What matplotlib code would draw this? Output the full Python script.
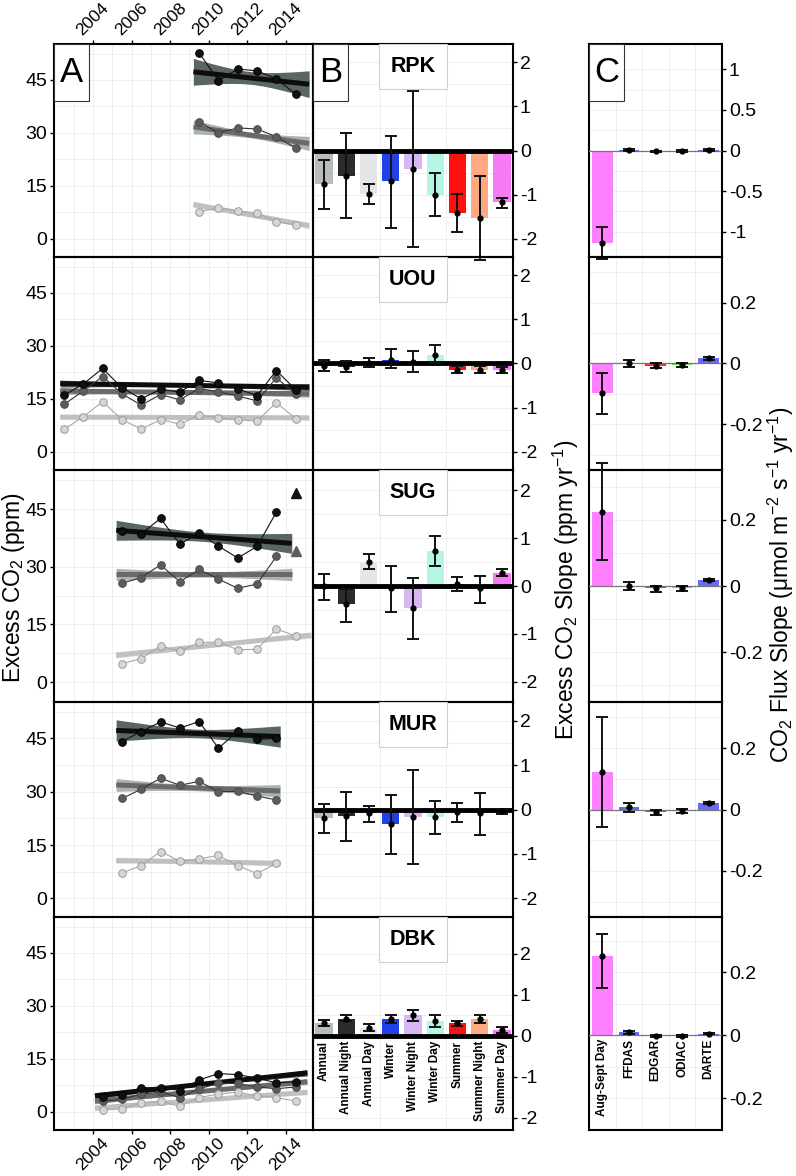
import numpy as np
import matplotlib
matplotlib.use('Agg')
import matplotlib.pyplot as plt
from matplotlib.patches import Rectangle

plt.rcParams['font.family'] = ['Liberation Sans', 'DejaVu Sans']
plt.rcParams['mathtext.fontset'] = 'custom'
plt.rcParams['mathtext.rm'] = 'Liberation Sans'
plt.rcParams['axes.unicode_minus'] = False

W, H = 796, 1176

sites = ['RPK', 'UOU', 'SUG', 'MUR', 'DBK']

# ---- panel A : yearly excess CO2 (night / annual / day) ----
rpk_years = [2009.5, 2010.5, 2011.5, 2012.5, 2013.5, 2014.5]
rpk_night = [52.7, 44.8, 48.1, 47.6, 45.3, 41.0]
rpk_annual = [33.1, 30.0, 31.4, 31.1, 28.9, 25.7]
rpk_day = [7.6, 8.8, 7.8, 7.3, 4.8, 3.9]

uou_years = [2002.5, 2003.5, 2004.5, 2005.5, 2006.5, 2007.5, 2008.5,
             2009.5, 2010.5, 2011.5, 2012.5, 2013.5, 2014.5]
uou_night = [16.0, 19.2, 23.6, 18.1, 15.0, 17.7, 16.9, 20.2, 19.5, 17.8, 15.9, 23.0, 17.6]
uou_annual = [13.4, 17.2, 21.3, 16.4, 13.2, 16.2, 14.7, 17.9, 17.0, 15.8, 14.4, 20.9, 16.4]
uou_day = [6.3, 9.9, 14.2, 9.1, 6.4, 9.1, 7.8, 10.4, 9.6, 9.0, 8.7, 13.9, 9.4]

sug_years = [2005.5, 2006.5, 2007.5, 2008.5, 2009.5, 2010.5, 2011.5, 2012.5, 2013.5, 2014.5]
sug_night = [39.3, 38.6, 42.6, 35.9, 38.7, 35.4, 32.3, 35.3, 44.2, None]
sug_annual = [25.7, 27.2, 30.5, 26.1, 29.3, 26.8, 24.4, 25.5, 32.7, None]
sug_day = [4.8, 6.1, 9.4, 8.0, 10.3, 10.4, 8.4, 8.5, 13.8, 12.0]
sug_tri_year = 2014.5
sug_tri_night = 49.3
sug_tri_annual = 34.1

mur_years = [2005.5, 2006.5, 2007.5, 2008.5, 2009.5, 2010.5, 2011.5, 2012.5, 2013.5]
mur_night = [44.1, 46.9, 49.6, 47.9, 49.7, 42.2, 47.0, 44.7, 45.0]
mur_annual = [28.1, 30.7, 33.8, 31.8, 32.9, 30.0, 30.1, 28.8, 27.7]
mur_day = [7.2, 9.2, 13.2, 10.5, 11.1, 12.1, 9.2, 7.0, 9.9]

dbk_years = [2004.5, 2005.5, 2006.5, 2007.5, 2008.5, 2009.5, 2010.5,
             2011.5, 2012.5, 2013.5, 2014.5]
dbk_night = [4.2, 4.8, 6.8, 6.8, 6.0, 9.0, 10.8, 10.5, 9.5, 8.2, 8.5]
dbk_annual = [3.0, 3.5, 5.0, 5.5, 4.0, 6.5, 8.0, 8.0, 7.0, 6.5, 7.0]
dbk_day = [0.5, 0.8, 2.5, 3.0, 1.5, 4.0, 5.0, 5.5, 4.5, 4.0, 3.0]

# trend lines: (x start, x end, y start, y end, band half width at ends, at middle)
rpk_fit = [(2009.2, 2015.2, 47.3, 43.8, 3.8, 1.8),
           (2009.2, 2015.2, 31.7, 27.0, 2.0, 0.8),
           (2009.2, 2015.2, 9.7, 3.7, 0.9, 0.4)]
uou_fit = [(2002.3, 2015.2, 19.3, 18.3, 1.0, 0.4),
           (2002.3, 2015.2, 17.2, 16.4, 1.0, 0.4),
           (2002.3, 2015.2, 9.8, 9.6, 0.6, 0.3)]
sug_fit = [(2005.2, 2014.3, 39.5, 36.1, 2.6, 1.2),
           (2005.2, 2014.3, 28.0, 28.0, 1.6, 0.7),
           (2005.2, 2015.3, 7.0, 12.2, 0.8, 0.4)]
mur_fit = [(2005.2, 2013.7, 47.2, 45.5, 3.0, 1.2),
           (2005.2, 2013.7, 31.9, 30.2, 1.8, 0.8),
           (2005.2, 2013.7, 10.7, 9.9, 0.8, 0.4)]
dbk_fit = [(2004.1, 2015.1, 4.5, 11.0, 0.9, 0.4),
           (2004.1, 2015.1, 3.0, 8.5, 0.8, 0.4),
           (2004.1, 2015.1, 1.0, 5.5, 0.7, 0.3)]

# ---- panel B : excess CO2 slopes ----
b_labels = ['Annual', 'Annual Night', 'Annual Day', 'Winter', 'Winter Night',
            'Winter Day', 'Summer', 'Summer Night', 'Summer Day']
b_colors = ['#b7bdbd', '#2b2b2b', '#e6e6e6', '#2040e8', '#d8b6f2',
            '#b5f5e6', '#ff1010', '#ffa882', '#f57cf5']

rpk_slope = [-0.76, -0.57, -0.98, -0.70, -0.43, -1.00, -1.42, -1.54, -1.18]
rpk_lo = [-1.32, -1.54, -1.21, -1.75, -2.19, -1.49, -1.85, -2.48, -1.31]
rpk_hi = [-0.22, 0.40, -0.76, 0.33, 1.35, -0.52, -0.98, -0.59, -1.08]

uou_slope = [-0.05, -0.07, 0.02, 0.07, 0.04, 0.20, -0.15, -0.14, -0.15]
uou_lo = [-0.16, -0.20, -0.08, -0.11, -0.20, 0.02, -0.21, -0.22, -0.21]
uou_hi = [0.07, 0.05, 0.13, 0.32, 0.28, 0.43, -0.06, -0.06, -0.08]

sug_slope = [0.0, -0.37, 0.51, -0.04, -0.46, 0.72, 0.05, -0.05, 0.28]
sug_lo = [-0.30, -0.76, 0.36, -0.54, -1.11, 0.41, -0.11, -0.35, 0.21]
sug_hi = [0.26, -0.06, 0.67, 0.42, 0.17, 1.04, 0.19, 0.20, 0.35]

mur_slope = [-0.20, -0.14, -0.09, -0.33, -0.17, -0.18, -0.05, -0.09, -0.03]
mur_lo = [-0.53, -0.70, -0.28, -1.00, -1.23, -0.56, -0.28, -0.58, -0.10]
mur_hi = [0.12, 0.39, 0.08, 0.33, 0.88, 0.19, 0.14, 0.38, 0.02]

dbk_slope = [0.30, 0.40, 0.20, 0.40, 0.50, 0.35, 0.30, 0.40, 0.15]
dbk_lo = [0.25, 0.35, 0.12, 0.30, 0.35, 0.22, 0.25, 0.30, 0.08]
dbk_hi = [0.38, 0.50, 0.28, 0.50, 0.62, 0.50, 0.35, 0.50, 0.22]

# ---- panel C : CO2 flux slopes ----
c_labels = ['Aug-Sept Day', 'FFDAS', 'EDGAR', 'ODIAC', 'DARTE']
c_colors = ['#ff80ff', '#5a6cf0', '#ff2a2a', '#5ee845', '#6a6af5']

rpk_flux = [-1.14, 0.005, -0.01, -0.005, 0.01]
rpk_flux_lo = [-1.33, -0.01, -0.02, -0.015, 0.0]
rpk_flux_hi = [-0.94, 0.02, 0.0, 0.005, 0.02]

uou_flux = [-0.097, 0.0, -0.008, -0.006, 0.017]
uou_flux_lo = [-0.165, -0.01, -0.016, -0.013, 0.013]
uou_flux_hi = [-0.03, 0.011, 0.0, 0.002, 0.02]

sug_flux = [0.223, 0.0, -0.007, -0.005, 0.019]
sug_flux_lo = [0.078, -0.013, -0.018, -0.015, 0.016]
sug_flux_hi = [0.371, 0.011, 0.001, 0.0, 0.022]

mur_flux = [0.121, 0.009, -0.008, -0.005, 0.02]
mur_flux_lo = [-0.056, -0.007, -0.017, -0.011, 0.017]
mur_flux_hi = [0.30, 0.02, -0.002, 0.003, 0.025]

dbk_flux = [0.25, 0.01, -0.002, -0.003, 0.005]
dbk_flux_lo = [0.15, 0.005, -0.005, -0.006, 0.003]
dbk_flux_hi = [0.32, 0.015, 0.001, 0.0, 0.007]

a_data = [(rpk_years, rpk_night, rpk_annual, rpk_day, rpk_fit),
          (uou_years, uou_night, uou_annual, uou_day, uou_fit),
          (sug_years, sug_night, sug_annual, sug_day, sug_fit),
          (mur_years, mur_night, mur_annual, mur_day, mur_fit),
          (dbk_years, dbk_night, dbk_annual, dbk_day, dbk_fit)]
b_data = [(rpk_slope, rpk_lo, rpk_hi), (uou_slope, uou_lo, uou_hi),
          (sug_slope, sug_lo, sug_hi), (mur_slope, mur_lo, mur_hi),
          (dbk_slope, dbk_lo, dbk_hi)]
c_data = [(rpk_flux, rpk_flux_lo, rpk_flux_hi), (uou_flux, uou_flux_lo, uou_flux_hi),
          (sug_flux, sug_flux_lo, sug_flux_hi), (mur_flux, mur_flux_lo, mur_flux_hi),
          (dbk_flux, dbk_flux_lo, dbk_flux_hi)]

# layout in pixels
rows = [44, 257, 470, 702, 917, 1130]
col_a = (54, 313)
col_b = (313, 513)
col_c = (589, 722)
b_ylims = [(-2.42, 2.42)] * 4 + [(-2.3, 2.9)]
c_ylims = [(-1.31, 1.31)] + [(-0.35, 0.35)] * 3 + [(-0.29, 0.375)]

grid_col = '#ededed'
spine_w = 1.5

# night, annual, day styles
pt_face = ['#111111', '#5c5c5c', '#d6d6d6']
pt_edge = ['#000000', '#4a4a4a', '#9a9a9a']
conn_col = ['#111111', '#333333', '#a8a8a8']
fit_col = ['#0d0d0d', '#6a6a6a', '#bcc2c2']
band_col = ['#5a6666', '#aab3b3', '#d8dddd']


def px_rect(x0, x1, y0, y1):
    return [x0 / W, 1 - y1 / H, (x1 - x0) / W, (y1 - y0) / H]


def draw_fit(ax, fit, color, bcolor):
    x0, x1, y0, y1, hw_end, hw_mid = fit
    xs = np.linspace(x0, x1, 60)
    ys = y0 + (y1 - y0) * (xs - x0) / (x1 - x0)
    t = (xs - (x0 + x1) / 2) / ((x1 - x0) / 2)
    hw = np.sqrt(hw_mid ** 2 + (hw_end ** 2 - hw_mid ** 2) * t ** 2)
    ax.fill_between(xs, ys - hw, ys + hw, color=bcolor, lw=0, zorder=2)
    ax.plot(xs, ys, color=color, lw=3.6, solid_capstyle='butt', zorder=3)


def style_spines(ax):
    for s in ax.spines.values():
        s.set_linewidth(spine_w)
        s.set_color('black')


def corner_box(ax, letter, x0, x1, y0, y1):
    w = x1 - x0
    h = y1 - y0
    ax.add_patch(Rectangle((0, 1 - 57 / h), 35 / w, 57 / h, transform=ax.transAxes,
                           fc='white', ec='#333333', lw=0.8, zorder=6))
    ax.text(17.5 / w, 1 - 28.5 / h, letter, transform=ax.transAxes, ha='center',
            va='center', fontsize=25, zorder=7)


def site_box(ax, name, x0, x1, y0, y1):
    w = x1 - x0
    h = y1 - y0
    bw, bh = 68, 45
    ax.add_patch(Rectangle((0.5 - bw / 2 / w, 1 - bh / h), bw / w, bh / h,
                           transform=ax.transAxes, fc='white', ec='#d0d0d0',
                           lw=0.8, zorder=6))
    ax.text(0.5, 1 - bh / 2 / h, name, transform=ax.transAxes, ha='center',
            va='center', fontsize=15.5, fontweight='bold', zorder=7)


fig = plt.figure(figsize=(W / 100, H / 100), dpi=100)

# panel A
for i in range(5):
    years, night, annual, day, fits = a_data[i]
    y0, y1 = rows[i], rows[i + 1]
    ax = fig.add_axes(px_rect(col_a[0], col_a[1], y0, y1))
    ax.set_facecolor('none')
    ax.set_xlim(2001.98, 2015.4)
    ax.set_ylim(-5.2, 55.2)
    ax.set_xticks([2004, 2006, 2008, 2010, 2012, 2014])
    ax.set_xticks([2003, 2005, 2007, 2009, 2011, 2013, 2015], minor=True)
    ax.set_yticks([0, 15, 30, 45])
    ax.set_yticks([7.5, 22.5, 37.5, 52.5], minor=True)
    ax.grid(True, which='both', color=grid_col, lw=0.6, zorder=0)
    ax.tick_params(which='minor', length=0)
    ax.tick_params(axis='y', labelsize=14, length=3, width=1, pad=2)
    ax.tick_params(axis='x', labelsize=12.5, length=3, width=1, pad=1)
    if i == 0:
        ax.xaxis.tick_top()
        plt.setp(ax.get_xticklabels(), rotation=45, ha='center', va='bottom')
    elif i == 4:
        plt.setp(ax.get_xticklabels(), rotation=45, ha='center', va='top')
    else:
        ax.tick_params(axis='x', length=0, labelbottom=False)

    series = [night, annual, day]
    for k in [2, 1, 0]:
        draw_fit(ax, fits[k], fit_col[k], band_col[k])
    for k in [2, 1, 0]:
        xs = [x for x, v in zip(years, series[k]) if v is not None]
        vs = [v for v in series[k] if v is not None]
        ax.plot(xs, vs, color=conn_col[k], lw=0.8, zorder=4)
        ax.plot(xs, vs, 'o', ms=5.5, mfc=pt_face[k], mec=pt_edge[k], mew=0.7, zorder=5)
    if sites[i] == 'SUG':
        ax.plot([sug_tri_year], [sug_tri_night], '^', ms=6.5, color='#111111', zorder=5)
        ax.plot([sug_tri_year], [sug_tri_annual], '^', ms=6.5, color='#5c5c5c', zorder=5)
    style_spines(ax)
    if i == 0:
        corner_box(ax, 'A', col_a[0], col_a[1], y0, y1)

# panel B
xb = np.arange(1, 10)
for i in range(5):
    slope, lo, hi = b_data[i]
    y0, y1 = rows[i], rows[i + 1]
    ax = fig.add_axes(px_rect(col_b[0], col_b[1], y0, y1))
    ax.set_facecolor('none')
    ax.set_xlim(0.5, 9.5)
    ax.set_ylim(*b_ylims[i])
    ax.set_yticks([-2, -1, 0, 1, 2])
    ax.set_yticks([-1.5, -0.5, 0.5, 1.5], minor=True)
    ax.set_xticks([3.5, 6.5])
    ax.grid(True, which='both', color=grid_col, lw=0.6, zorder=0)
    ax.yaxis.tick_right()
    ax.tick_params(axis='y', which='major', labelsize=14, length=3, width=1, pad=2)
    ax.tick_params(which='minor', length=0)
    ax.tick_params(axis='x', length=0, labelbottom=False)
    ax.bar(xb, slope, width=0.78, color=b_colors, zorder=2)
    ax.axhline(0, color='black', lw=3.5, zorder=3)
    slope_a = np.array(slope)
    err = [slope_a - np.array(lo), np.array(hi) - slope_a]
    ax.errorbar(xb, slope, yerr=err, fmt='o', ms=3.5, color='black', ecolor='#111111',
                elinewidth=1.4, capsize=4.5, capthick=1.4, zorder=4, clip_on=False)
    if i == 4:
        for x, lab in zip(xb, b_labels):
            ax.text(x, -0.13, lab, rotation=90, ha='center', va='top', fontsize=8.5,
                    fontweight='bold', zorder=5)
    style_spines(ax)
    site_box(ax, sites[i], col_b[0], col_b[1], y0, y1)
    if i == 0:
        corner_box(ax, 'B', col_b[0], col_b[1], y0, y1)

# panel C
xc = np.arange(1, 6)
for i in range(5):
    flux, lo, hi = c_data[i]
    y0, y1 = rows[i], rows[i + 1]
    ax = fig.add_axes(px_rect(col_c[0], col_c[1], y0, y1))
    ax.set_facecolor('none')
    ax.set_xlim(0.5, 5.5)
    ax.set_ylim(*c_ylims[i])
    if i == 0:
        ax.set_yticks([-1, -0.5, 0, 0.5, 1])
        ax.set_yticklabels(['-1', '-0.5', '0', '0.5', '1'])
        ax.set_yticks([-0.75, -0.25, 0.25, 0.75], minor=True)
    else:
        ax.set_yticks([-0.2, 0, 0.2])
        ax.set_yticklabels(['-0.2', '0', '0.2'])
        ax.set_yticks([-0.3, -0.1, 0.1, 0.3], minor=True)
    ax.set_xticks([1.5, 2.5, 3.5, 4.5])
    ax.grid(True, which='both', color=grid_col, lw=0.6, zorder=0)
    ax.yaxis.tick_right()
    ax.tick_params(axis='y', which='major', labelsize=14, length=3, width=1, pad=2)
    ax.tick_params(which='minor', length=0)
    ax.tick_params(axis='x', length=0, labelbottom=False)
    ax.bar(xc, flux, width=0.78, color=c_colors, zorder=2)
    ax.axhline(0, color='#777777', lw=0.9, zorder=3)
    flux_a = np.array(flux)
    err = [flux_a - np.array(lo), np.array(hi) - flux_a]
    ax.errorbar(xc, flux, yerr=err, fmt='o', ms=3.5, color='black', ecolor='#111111',
                elinewidth=1.4, capsize=4.5, capthick=1.4, zorder=4, clip_on=False)
    if i == 4:
        for x, lab in zip(xc, c_labels):
            ax.text(x, -0.012, lab, rotation=90, ha='center', va='top', fontsize=8.5,
                    fontweight='bold', zorder=5)
    style_spines(ax)
    if i == 0:
        corner_box(ax, 'C', col_c[0], col_c[1], y0, y1)

fig.text(14 / W, 1 - 588 / H, 'Excess CO$_2$ (ppm)', rotation=90, ha='center',
         va='center', fontsize=16.5)
fig.text(566 / W, 1 - 590 / H, 'Excess CO$_2$ Slope (ppm yr$^{-1}$)', rotation=90,
         ha='center', va='center', fontsize=16.5)
fig.text(781 / W, 1 - 585 / H,
         'CO$_2$ Flux Slope (μmol m$^{-2}$ s$^{-1}$ yr$^{-1}$)', rotation=90,
         ha='center', va='center', fontsize=16.5)

fig.savefig('out.png', dpi=100)
